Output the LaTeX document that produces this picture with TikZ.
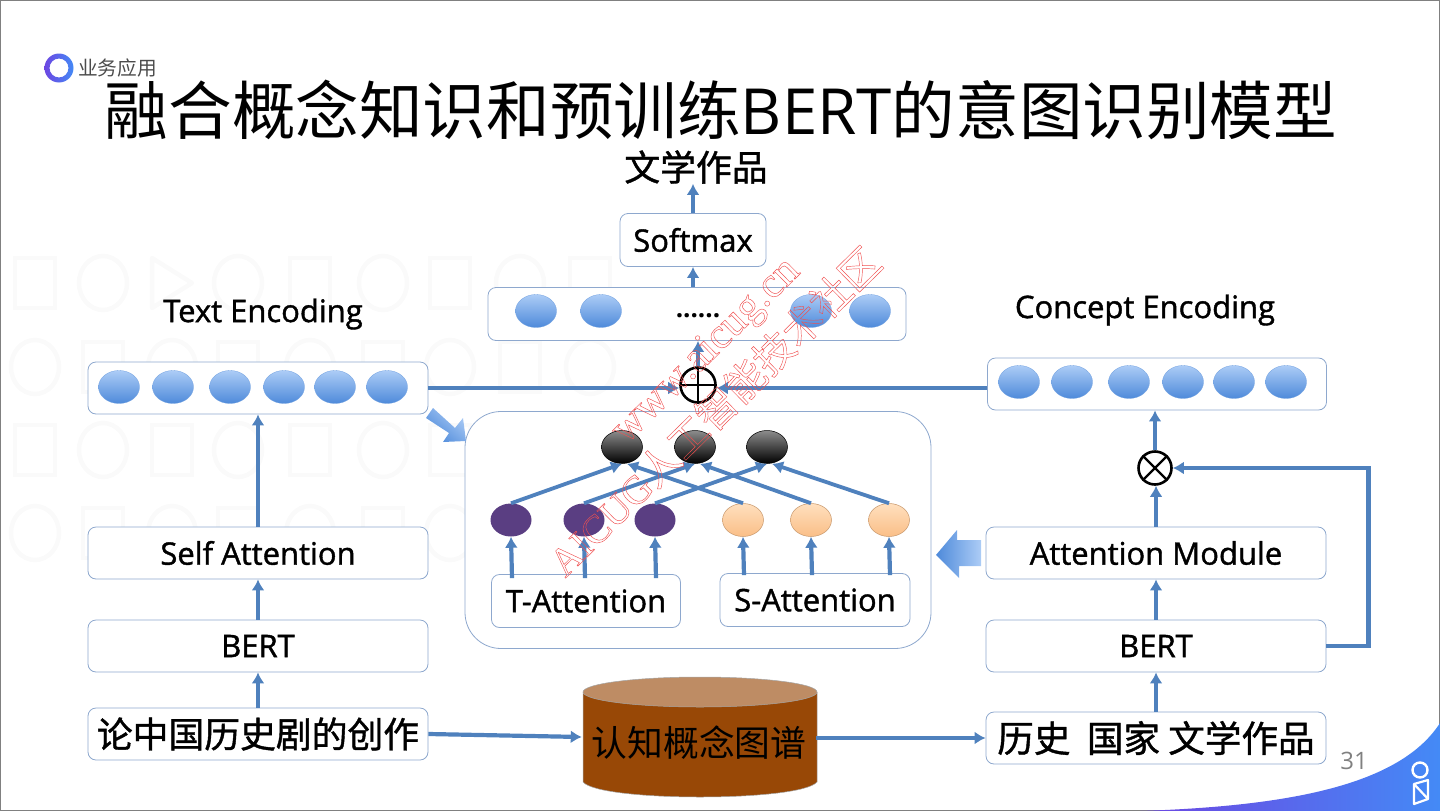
\documentclass[tikz,border=0pt]{standalone}
\usepackage{fontspec}
\usepackage{tikz}
\usepackage{xcolor}
\usetikzlibrary{arrows.meta,calc,shapes.geometric}
\setmainfont{Open Sans}
\newfontfamily\cjk{Noto Sans CJK SC}
\newfontfamily\wmfont{Liberation Serif}
\definecolor{FlowBlue}{RGB}{79,129,189}
\definecolor{EdgeBlue}{RGB}{142,168,206}
\definecolor{BallLight}{RGB}{172,204,246}
\definecolor{BallDark}{RGB}{78,138,218}
\definecolor{PeachLight}{RGB}{255,224,190}
\definecolor{PeachDark}{RGB}{250,190,135}
\definecolor{DarkPurple}{RGB}{90,62,130}
\definecolor{DrumBrown}{RGB}{152,72,6}
\definecolor{DrumTop}{RGB}{190,140,100}
\definecolor{FaintGray}{RGB}{250,250,250}
\definecolor{MarkRed}{RGB}{240,80,80}
\definecolor{LogoPurple}{RGB}{108,70,226}
\definecolor{LogoBlue}{RGB}{68,138,246}
\newcommand{\outlined}[1]{\special{pdf:code 1 Tr 0.45 w}#1\special{pdf:code 0 Tr}}
\newcommand{\inked}[1]{\special{pdf:code 2 Tr 0.4 w}#1\special{pdf:code 0 Tr}}
\tikzset{
  flow/.style={-{Latex[length=11pt,width=13pt]},line width=4.2pt,FlowBlue},
  roundbox/.style={draw=EdgeBlue,line width=0.8pt,fill=white,rounded corners=8pt,inner sep=0pt,font=\fontsize{31}{33}\selectfont},
  ball/.style={ellipse,inner sep=0pt,minimum width=41pt,minimum height=33pt},
  blueball/.style={ball,top color=BallLight,bottom color=BallDark,draw=BallDark!80,line width=0.3pt},
  grayball/.style={ball,top color=gray!90,middle color=gray!60,bottom color=black,draw=black,line width=0.5pt},
  purpleball/.style={ball,fill=DarkPurple},
  peachball/.style={ball,top color=PeachLight,bottom color=PeachDark,draw=PeachDark!80!black,line width=0.5pt},
  opcircle/.style={circle,draw=black,line width=2.6pt,inner sep=0pt,minimum size=33pt},
  heading/.style={inner sep=0pt,font=\fontsize{31}{33}\selectfont},
  faintline/.style={FaintGray,line width=4.5pt},
  watermark/.style={inner sep=0pt,rotate=44.5,MarkRed}
}
\begin{document}
\begin{tikzpicture}[x=1pt,y=-1pt]
  \useasboundingbox (0,0) rectangle (1440,811);
  % faint background marks
  \foreach \x in {35,310,450,590} \draw[faintline] (\x-20,283-25) rectangle (\x+20,283+25);
  \draw[faintline,line join=round] (152,258) -- (192,283) -- (152,308) -- cycle;
  \foreach \x in {35,172,310,450,590} \draw[faintline] (\x-20,450-25) rectangle (\x+20,450+25);
  \foreach \y in {283,450} \foreach \x in {103,238,383,520} \draw[faintline] (\x,\y) ellipse (24 and 27);
  \foreach \y in {367,533} {
    \foreach \x in {35,172,310,450,590} \draw[faintline] (\x,\y) ellipse (24 and 27);
    \foreach \x in {103,238,383,520} \draw[faintline] (\x-20,\y-25) rectangle (\x+20,\y+25);
  }
  \draw[gray,line width=1.5pt] (0,0) rectangle (1440,811);
  % corner
  \path[left color=LogoPurple,right color=LogoBlue] (1140,811) .. controls (1290,806) and (1400,785) .. (1440,723) -- (1440,811) -- cycle;
  \draw[white,line width=2.4pt] (1420,770) circle (7.5);
  \draw[white,line width=2.2pt,line join=round] (1414,784) -- (1428,780) -- (1428,799) -- (1414,804) -- cycle (1414,784) -- (1428,799);
  \node[inner sep=0pt,text=gray,font=\fontsize{24}{26}\selectfont] (pageno) at (1354,761) {31};
  % header
  \path[even odd rule,left color=LogoPurple,right color=LogoBlue] (59,68) circle (14.5) (59,68) circle (9.5);
  \node[inner sep=0pt,text=black!70,font=\cjk\fontsize{19.7}{21}\selectfont] (section) at (117.5,68) {业务应用};
  \node[inner sep=0pt,font=\fontsize{63.6}{66}\selectfont] (title) at (721,110) {{\cjk 融合概念知识和预训练}BERT{\cjk 的意图识别模型}};
  \node[heading,font=\cjk\fontsize{35.8}{37}\selectfont] (output) at (696,167) {\inked{文学作品}};
  \node[heading] (texthead) at (263,314) {\inked{Text Encoding}};
  \node[heading] (concepthead) at (1145,310) {\inked{Concept Encoding}};
  % boxes
  \node[roundbox,minimum width=146pt,minimum height=53pt] (softmax) at (693,240) {\inked{Softmax}};
  \node[roundbox,minimum width=418pt,minimum height=53pt] (merged) at (697,314) {};
  \node[roundbox,minimum width=340pt,minimum height=52pt] (textenc) at (258,388) {};
  \node[roundbox,minimum width=339pt,minimum height=52pt] (conceptenc) at (1157,384) {};
  \node[roundbox,minimum width=466pt,minimum height=237pt,rounded corners=36pt] (attnpanel) at (698,530) {};
  \node[roundbox,minimum width=189pt,minimum height=53pt] (tattn) at (586,601) {\inked{T-Attention}};
  \node[roundbox,minimum width=190pt,minimum height=53pt] (sattn) at (815,600) {\inked{S-Attention}};
  \node[roundbox,minimum width=340pt,minimum height=52pt] (selfattn) at (258,553) {\inked{Self Attention}};
  \node[roundbox,minimum width=340pt,minimum height=52pt] (bertl) at (258,646) {\inked{BERT}};
  \node[roundbox,minimum width=340pt,minimum height=52pt,font=\cjk\fontsize{35.8}{37}\selectfont] (source) at (258,734) {\inked{论中国历史剧的创作}};
  \node[roundbox,minimum width=340pt,minimum height=52pt] (attnmod) at (1156,553) {\inked{Attention Module}};
  \node[roundbox,minimum width=340pt,minimum height=52pt] (bertr) at (1156,646) {\inked{BERT}};
  \node[roundbox,minimum width=340pt,minimum height=52pt,font=\cjk\fontsize{36.6}{38}\selectfont] (concepts) at (1156,738) {\inked{历史\ \ 国家 文学作品}};
  % balls
  \foreach \x [count=\i] in {119,173,230,284,335,387} \node[blueball] (tb\i) at (\x,387) {};
  \foreach \x [count=\i] in {1019,1072,1129,1183,1234,1286} \node[blueball] (cb\i) at (\x,382) {};
  \foreach \x [count=\i] in {536,601,811,870} \node[blueball] (mb\i) at (\x,311) {};
  \node[inner sep=0pt,font=\fontsize{26}{28}\selectfont\bfseries] (dots) at (698,316) {......};
  \foreach \x [count=\i] in {622,695,767} \node[grayball] (gb\i) at (\x,447) {};
  \foreach \x [count=\i] in {511,584,655} \node[purpleball] (pb\i) at (\x,520) {};
  \foreach \x [count=\i] in {743,811,889} \node[peachball] (ob\i) at (\x,520) {};
  % drum
  \fill[DrumBrown] (583,692) -- (583,782) .. controls (600,802) and (800,802) .. (817,782) -- (817,692) -- cycle;
  \draw[black!35,line width=0.5pt] (583,692) -- (583,782) .. controls (600,802) and (800,802) .. (817,782) -- (817,692);
  \draw[black!35,fill=DrumTop,line width=0.5pt] (700,692) ellipse (117 and 15);
  \node[inner sep=0pt,minimum width=234pt,minimum height=40pt,font=\cjk\fontsize{35.8}{37}\selectfont] (kgraph) at (699,743) {认知概念图谱};
  % operators
  \node[opcircle,minimum size=35pt] (plus) at (698,385) {};
  \draw[black,line width=1.4pt] (plus.north) -- (plus.south) (plus.west) -- (plus.east);
  \node[opcircle] (times) at (1155,468) {};
  \draw[black,line width=2.4pt] (times.north west) -- (times.south east) (times.north east) -- (times.south west);
  % left column
  \draw[flow] (source) -- (bertl);
  \draw[flow] (bertl) -- (selfattn);
  \draw[flow] (selfattn) -- (textenc);
  \draw[flow] (textenc.east) -- (textenc.east -| plus.west);
  % right column
  \draw[flow] (concepts) -- (bertr);
  \draw[flow] (bertr) -- (attnmod);
  \draw[flow] (attnmod.north) -- (attnmod.north |- times.south);
  \draw[flow] (times) -- (times |- conceptenc.south);
  \draw[flow] (bertr.east) -- ++(42,0) |- (times.east);
  \draw[flow] (conceptenc.west |- textenc.east) -- (textenc.east -| plus.east);
  % top column
  \draw[flow] (plus.north) -- (plus |- merged.south);
  \draw[flow] (softmax |- merged.north) -- (softmax.south);
  \draw[flow] (softmax.north) -- (softmax |- output.south);
  % bottom row
  \draw[flow] (source.east) -- ($(kgraph.west)+(0,-6)$);
  \draw[flow] (concepts.west -| kgraph.east) -- (concepts.west);
  % attention panel
  \foreach \i in {1,2,3} {
    \draw[flow] (pb\i |- tattn.north) ++(1,4) -- (pb\i.south);
    \draw[flow] (ob\i |- sattn.north) ++(1,2) -- (ob\i.south);
    \draw[flow,line width=3.8pt] (pb\i.north) -- (gb\i.south);
    \draw[flow,line width=3.8pt] (ob\i.north) -- ($(gb\i.south)+(5,0)$);
  }
  % block arrows
  \path[left color=BallDark,right color=BallLight] (936,555) -- (957,530) -- (957,540) -- (981,540) -- (981,566) -- (959,566) -- (959,578) -- cycle;
  \path[top color=BallLight,bottom color=BallDark,shading angle=-40] (426,418) -- (433,408) -- (455,428) -- (463,418) -- (466,441) -- (443,442) -- (449,433) -- cycle;
  % watermark
  \node[watermark,font=\wmfont\fontsize{43}{45}\selectfont] (markurl) at (707,352) {\outlined{www.aicug.cn}};
  \node[watermark,font=\fontsize{40}{42}\selectfont] (markname) at (714,411) {\outlined{{\wmfont AICUG}{\cjk 人工智能技术社区}}};
\end{tikzpicture}
\end{document}
